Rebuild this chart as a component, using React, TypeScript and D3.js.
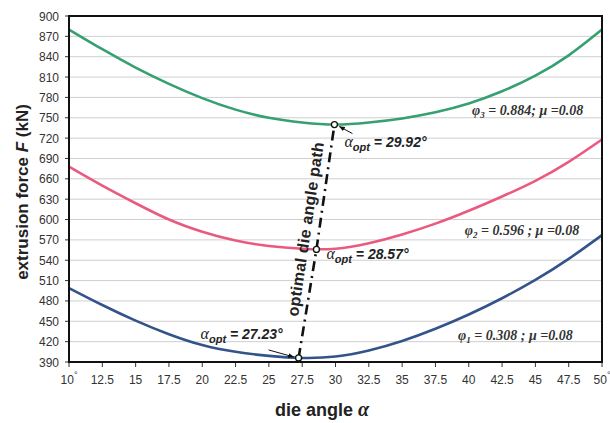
import React from "react";
import * as d3 from "d3";

const angles = [10, 12.5, 15, 17.5, 20, 22.5, 25, 27.5, 30, 32.5, 35, 37.5, 40, 42.5, 45, 47.5, 50];
const forcePhi3 = [880, 851, 824, 800, 779, 762, 750, 743, 740, 743, 749, 758, 771, 789, 812, 842, 880];
const forcePhi2 = [678, 650, 624, 600, 582, 569, 561, 557, 557, 565, 578, 594, 613, 634, 657, 685, 718];
const forcePhi1 = [499, 474, 451, 431, 415, 405, 399, 396, 398, 407, 421, 439, 460, 484, 511, 542, 577];
const optAngles = [27.23, 28.57, 29.92];
const optForces = [396, 556, 740];
const optLabels = ["27.23°", "28.57°", "29.92°"];
const yTicks = [390, 420, 450, 480, 510, 540, 570, 600, 630, 660, 690, 720, 750, 780, 810, 840, 870, 900];
const xTickLabels = ["10", "12.5", "15", "17.5", "20", "22.5", "25", "27.5", "30", "32.5", "35", "37.5", "40", "42.5", "45", "47.5", "50"];
const seriesNames = [
  { sub: "1", phi: "0.308 ; " },
  { sub: "2", phi: "0.596 ; " },
  { sub: "3", phi: "0.884; " },
];

const W = 610, H = 423;
const L = 69, R = 602, T = 16, B = 362;

export default function App() {
  const x = d3.scaleLinear().domain([10, 50]).range([L, R]);
  const y = d3.scaleLinear().domain([390, 900]).range([B, T]);
  const line = d3.line<number>()
    .x((_, i) => x(angles[i]))
    .y((d) => y(d))
    .curve(d3.curveNatural);
  const pathLine = d3.line<number>()
    .x((_, i) => x(optAngles[i]))
    .y((d) => y(d));

  const series = [
    { data: forcePhi1, color: "#33538a" },
    { data: forcePhi2, color: "#ea5a7e" },
    { data: forcePhi3, color: "#35a070" },
  ];
  const sans = "Liberation Sans, Arial, sans-serif";
  const serif = "Liberation Serif, Times New Roman, serif";

  const optLabelPos = [
    { dx: -98, dy: -19 },
    { dx: 10, dy: 10 },
    { dx: 10, dy: 22 },
  ];
  const seriesLabelPos = [
    { ax: 39.2, v: 422 },
    { ax: 39.7, v: 577 },
    { ax: 40.25, v: 754 },
  ];

  return (
    <svg width={W} height={H} style={{ position: "absolute", left: 0, top: 0, background: "#fff" }}>
      <defs>
        <marker id="arr" viewBox="0 0 10 10" refX="9" refY="5" markerWidth="6" markerHeight="6" orient="auto-start-reverse">
          <path d="M0,1 L10,5 L0,9 z" fill="#111" />
        </marker>
      </defs>
      <rect x={0} y={0} width={W} height={H} fill="#fff" />
      {yTicks.map((t) => (
        <g key={t}>
          <line x1={L} x2={R} y1={y(t)} y2={y(t)} stroke="#cfcfcf" strokeWidth={1} />
          <line x1={L - 4} x2={L} y1={y(t)} y2={y(t)} stroke="#333" strokeWidth={1} />
          <text x={L - 10} y={y(t) + 4.5} textAnchor="end" fontFamily={sans} fontSize={12} fill="#333">{t}</text>
        </g>
      ))}
      {angles.map((a, i) => (
        <g key={a}>
          <line x1={x(a)} x2={x(a)} y1={B} y2={B + 5} stroke="#333" strokeWidth={1} />
          <text x={x(a)} y={B + 22} textAnchor="middle" fontFamily={sans} fontSize={12} fill="#333">
            {xTickLabels[i]}
            {(i === 0 || i === angles.length - 1) && (
              <tspan dy={-6} fontSize={9}>°</tspan>
            )}
          </text>
        </g>
      ))}
      {series.map((s, i) => (
        <path key={i} d={line(s.data) || ""} fill="none" stroke={s.color} strokeWidth={2.6} />
      ))}
      <rect x={L} y={T} width={R - L} height={B - T} fill="none" stroke="#111" strokeWidth={2} />
      <path d={pathLine(optForces) || ""} fill="none" stroke="#111" strokeWidth={2.6} strokeDasharray="10 5 2 5" />
      {optAngles.map((a, i) => (
        <circle key={a} cx={x(a)} cy={y(optForces[i])} r={3} fill="#fff" stroke="#111" strokeWidth={1.3} />
      ))}
      {optAngles.map((a, i) => {
        const px = x(a) + optLabelPos[i].dx;
        const py = y(optForces[i]) + optLabelPos[i].dy;
        return (
          <text key={"l" + a} x={px} y={py} fontFamily={sans} fontSize={14} fontWeight="bold" fontStyle="italic" fill="#222">
            <tspan fontFamily={serif} fontWeight="normal" fontSize={16}>α</tspan>
            <tspan dy={4} fontSize={11}>opt</tspan>
            <tspan dy={-4}>{" = " + optLabels[i]}</tspan>
          </text>
        );
      })}
      <line x1={x(optAngles[2]) + 18} y1={y(optForces[2]) + 9} x2={x(optAngles[2]) + 5} y2={y(optForces[2]) + 2} stroke="#111" strokeWidth={1} markerEnd="url(#arr)" />
      <line x1={x(optAngles[0]) - 30} y1={y(optForces[0]) - 8} x2={x(optAngles[0]) - 5} y2={y(optForces[0]) - 1} stroke="#111" strokeWidth={1} markerEnd="url(#arr)" />
      <text
        transform={`translate(311,230) rotate(-81.5)`}
        textAnchor="middle" fontFamily={sans} fontSize={16} fontWeight="bold" fill="#222"
        textLength={176} lengthAdjust="spacing"
      >optimal die angle path</text>
      {seriesNames.map((s, i) => (
        <text key={s.sub} x={x(seriesLabelPos[i].ax)} y={y(seriesLabelPos[i].v)} fontFamily={serif} fontSize={14} fontWeight="bold" fontStyle="italic" fill="#333">
          φ<tspan dy={3} fontSize={9}>{s.sub}</tspan>
          <tspan dy={-3}>{" = " + s.phi}μ =0.08</tspan>
        </text>
      ))}
      <text transform={`translate(28,192) rotate(-90)`} textAnchor="middle" fontFamily={sans} fontSize={17} fontWeight="bold" fill="#222">
        extrusion force <tspan fontStyle="italic">F</tspan> (kN)
      </text>
      <text x={322} y={416} textAnchor="middle" fontFamily={sans} fontSize={18} fontWeight="bold" fill="#222">
        die angle <tspan fontFamily={serif} fontStyle="italic" fontSize={20}>α</tspan>
      </text>
    </svg>
  );
}
